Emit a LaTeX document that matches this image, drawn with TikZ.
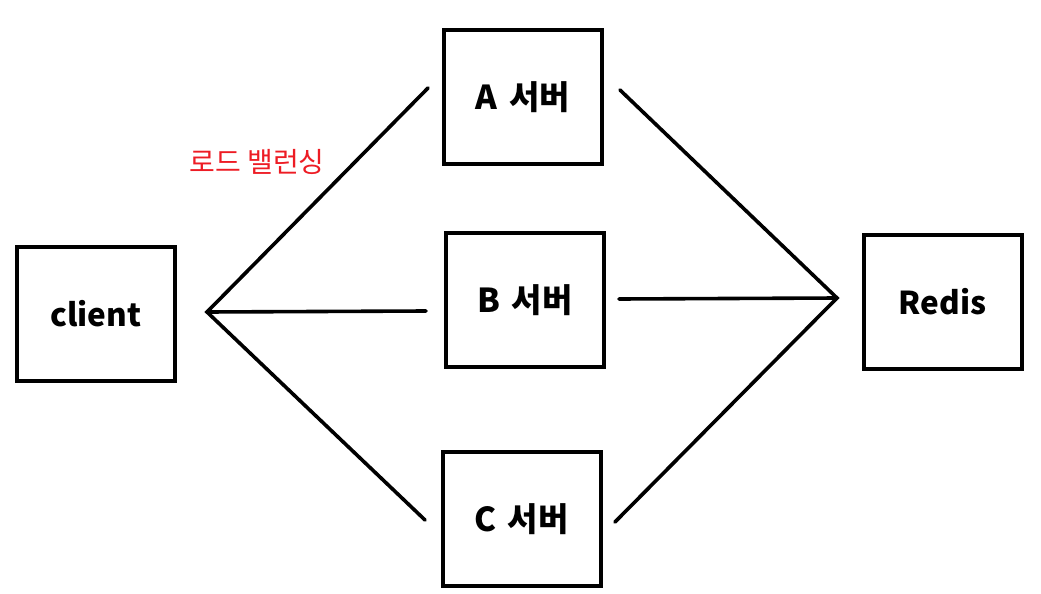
\documentclass[tikz,border=0pt]{standalone}
\usepackage{fontspec}
\usepackage{xcolor}
\usepackage{tikz}
\usetikzlibrary{positioning}
\setmainfont{Noto Sans CJK KR}
\definecolor{LbRed}{HTML}{ED1C24}
\newcommand{\gapsp}{\hspace{0.35em}}
\tikzset{
  srvbox/.style={draw=black,line width=4pt,minimum width=158pt,minimum height=134pt,inner sep=0pt,font=\fontsize{33}{40}\selectfont\bfseries},
  endbox/.style={srvbox,font=\fontsize{31.5}{38}\selectfont\bfseries},
  wire/.style={line width=3.6pt,draw=black,line cap=round,line join=miter},
  lblred/.style={text=LbRed,font=\fontsize{28}{34}\selectfont}
}
\begin{document}
\begin{tikzpicture}[x=1pt,y=-1pt]
\useasboundingbox (0,0) rectangle (1041,594);
\node[endbox] (client) at (96,314) {client};
\node[srvbox] (srvA) at (523,97) {A\gapsp 서버};
\node[srvbox] (srvB) at (525,300) {B\gapsp 서버};
\node[srvbox] (srvC) at (521.5,519) {C\gapsp 서버};
\node[endbox] (redis) at (942.5,301.5) {Redis};
\node[lblred] (lb) at (257,162) {로드 밸런싱};
\coordinate (lhub) at (207,312);
\coordinate (rhub) at (837,298);
\coordinate (aIn) at (428,88);
\coordinate (bIn) at (426,311);
\coordinate (cIn) at (425,520);
\coordinate (aOut) at (620,90);
\coordinate (bOut) at (619,299);
\coordinate (cOut) at (615,522);
\draw[wire] (aIn)--(lhub)--(cIn);
\draw[wire] (lhub)--(bIn);
\draw[wire] (aOut)--(rhub)--(cOut);
\draw[wire] (bOut)--(rhub);
\end{tikzpicture}
\end{document}
